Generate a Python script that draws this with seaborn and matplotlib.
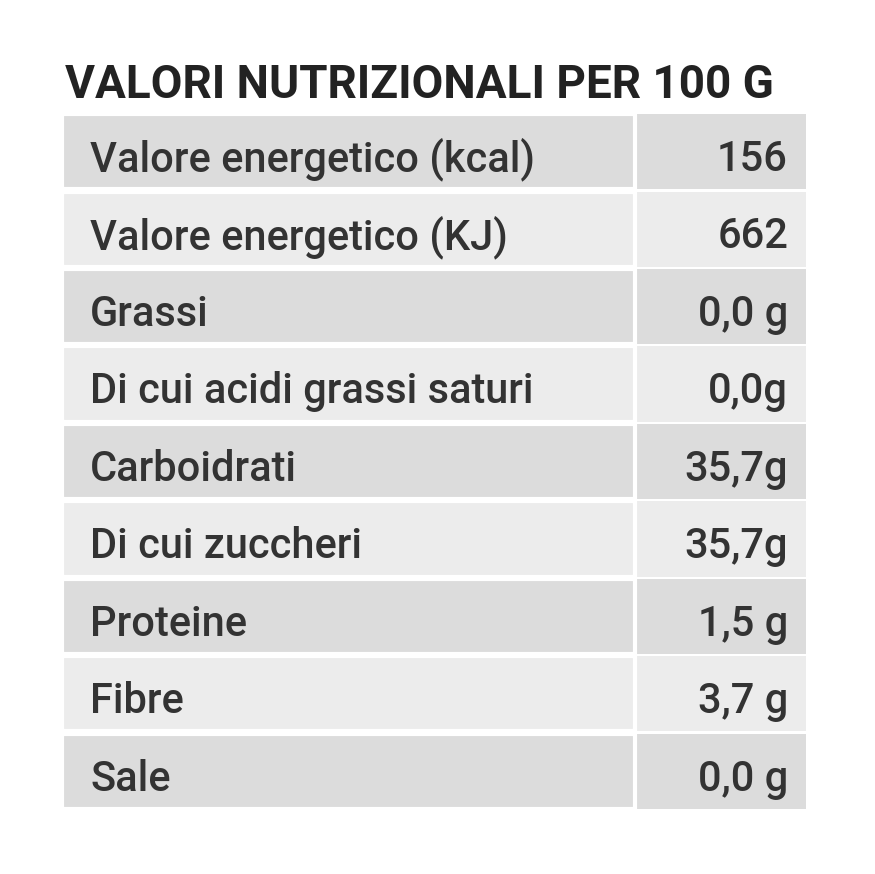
import matplotlib
matplotlib.use("Agg")
import matplotlib.pyplot as plt
import seaborn as sns
import pandas as pd

title = "VALORI NUTRIZIONALI PER 100 G"
labels = ["Valore energetico (kcal)", "Valore energetico (KJ)", "Grassi",
          "Di cui acidi grassi saturi", "Carboidrati", "Di cui zuccheri",
          "Proteine", "Fibre", "Sale"]
values = ["156", "662", "0,0 g", "0,0g", "35,7g", "35,7g", "1,5 g", "3,7 g", "0,0 g"]
shade = ["dark" if i % 2 == 0 else "light" for i in range(len(labels))]

sns.set_style("white")
plt.rcParams["font.family"] = ["Roboto", "DejaVu Sans"]

df = pd.DataFrame({"label": labels, "value": values, "shade": shade,
                   "full": 744, "left": 573})
pal = {"dark": "#dcdcdc", "light": "#ececec"}

fig = plt.figure(figsize=(8.75, 8.74), dpi=100)
ax = fig.add_axes([62 / 875, 64 / 874, 744 / 875, 697 / 874])
sns.barplot(data=df, y="label", x="full", hue="shade", palette=pal, dodge=False,
            width=0.97, edgecolor="white", linewidth=0, legend=False, ax=ax)
sns.barplot(data=df, y="label", x="left", hue="shade", palette=pal, dodge=False,
            width=0.97, edgecolor="white", linewidth=3, legend=False, ax=ax)
ax.set_xlim(0, 744)
ax.set_ylim(len(labels) - 0.5, -0.5)
ax.axis("off")

for i, (lab, val) in enumerate(zip(labels, values)):
    ax.text(28, i + 0.1, lab, va="center", ha="left", fontsize=30,
            fontweight="medium", color="#333333")
    ax.text(726, i + 0.1, val, va="center", ha="right", fontsize=30,
            fontweight="medium", color="#333333")

fig.text(65 / 875, 1 - 85 / 874, title, va="center", ha="left", fontsize=33,
         fontweight="bold", color="#222222")

fig.savefig("out.png", dpi=100, facecolor="white")
